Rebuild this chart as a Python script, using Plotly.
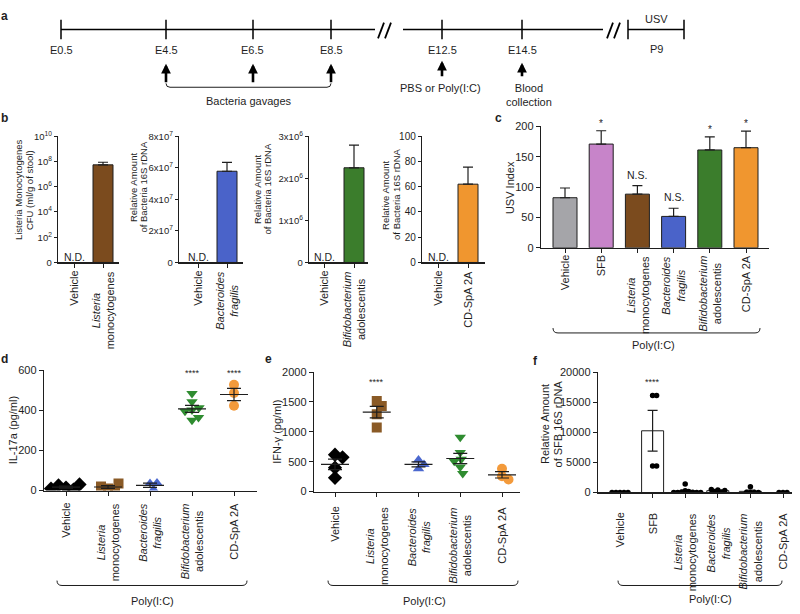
import numpy as np
import plotly.graph_objects as go

W, H = 800, 614
FONT = "Liberation Sans, Arial, Helvetica, sans-serif"
INK = "#1e1e1e"

# ---------------- data ----------------
# panel a: timeline
timeline_days = ["E0.5", "E4.5", "E6.5", "E8.5", "E12.5", "E14.5"]
timeline_notes = ["Bacteria gavages", "PBS or Poly(I:C)", "Blood<br>collection"]
usv_labels = ["USV", "P9"]

# panel b: colonisation
b1_labels = ["Vehicle", "<i>Listeria</i><br>monocytogenes"]
b1_values = [None, 5.4e7]
b1_errors = [None, 3.3e7]
b1_tickvals = [1, 1e2, 1e4, 1e6, 1e8, 1e10]
b1_ticktext = ["0", "10<sup>2</sup>", "10<sup>4</sup>", "10<sup>6</sup>", "10<sup>8</sup>", "10<sup>10</sup>"]
b1_title = ["Listeria Monocytogenes", "CFU (ml/g of stool)"]

b2_labels = ["Vehicle", "<i>Bacteroides</i><br><i>fragilis</i>"]
b2_values = [None, 5.78e7]
b2_errors = [None, 0.56e7]
b2_tickvals = [0, 2e7, 4e7, 6e7, 8e7]
b2_ticktext = ["0", "2x10<sup>7</sup>", "4x10<sup>7</sup>", "6x10<sup>7</sup>", "8x10<sup>7</sup>"]

b3_labels = ["Vehicle", "<i>Bifidobacterium</i><br>adolescentis"]
b3_values = [None, 2.25e6]
b3_errors = [None, 0.54e6]
b3_tickvals = [0, 1e6, 2e6, 3e6]
b3_ticktext = ["0", "1x10<sup>6</sup>", "2x10<sup>6</sup>", "3x10<sup>6</sup>"]

b4_labels = ["Vehicle", "CD-SpA 2A"]
b4_values = [None, 62.0]
b4_errors = [None, 13.5]
b4_tickvals = [0, 20, 40, 60, 80, 100]
rel_title = ["Relative Amount", "of Bacteria 16S rDNA"]

# panel c: USV index
c_labels = ["Vehicle", "SFB", "<i>Listeria</i><br>monocytogenes", "<i>Bacteroides</i><br><i>fragilis</i>",
            "<i>Bifidobacterium</i><br>adolescentis", "CD-SpA 2A"]
c_values = [82.5, 170.9, 88.4, 51.7, 161.2, 164.9]
c_errors = [16.0, 22.0, 14.0, 13.5, 21.5, 27.5]
c_marks = ["", "*", "N.S.", "N.S.", "*", "*"]

# panel d: IL-17a
d_labels = ["Vehicle", "<i>Listeria</i><br>monocytogenes", "<i>Bacteroides</i><br><i>fragilis</i>",
            "<i>Bifidobacterium</i><br>adolescentis", "CD-SpA 2A"]
d_values = [[15, 5, 25, 10, 30],
            [10, 5, 20, 35],
            [35, 5, 38],
            [483, 442, 401, 413, 395, 350, 364],
            [527, 486, 423]]
d_marks = ["", "", "", "****", "****"]

# panel e: IFN-gamma
e_values = [[616, 572, 398, 229],
            [1515, 1433, 1292, 1074],
            [529, 452, 381],
            [910, 654, 540, 507, 409, 300],
            [381, 256, 202]]
e_marks = ["", "****", "", "", ""]

# panel f: SFB 16S rDNA
f_labels = ["Vehicle", "SFB", "<i>Listeria</i><br>monocytogenes", "<i>Bacteroides</i><br><i>fragilis</i>",
            "<i>Bifidobacterium</i><br>adolescentis", "CD-SpA 2A"]
f_values = [[0, 0, 0, 0, 0],
            [16100, 16100, 4400, 4400],
            [1400, 300, 150, 80, 40, 0, 0, 0, 0],
            [400, 100, 150, 350, 500],
            [950, 0, 0, 0, 0],
            [0, 0, 0]]
f_marks = ["", "****", "", "", "", ""]
f_tickvals = [0, 5000, 10000, 15000, 20000]
f_title = ["Relative Amount", "of SFB 16S rDNA"]

# ---------------- styles ----------------
bar_colors_c = ["#a5a5a9", "#c784c9", "#7b4b1e", "#4a63c9", "#3b7d2c", "#f0962f"]
dot_colors = ["#000000", "#8a5a26", "#4b68cf", "#2f8c30", "#f39a3b"]
dot_symbols = ["diamond", "square", "triangle-up", "triangle-down", "circle"]
dot_sizes = [11, 10, 10, 10, 10]

# pixel geometry of each plot (layout only)
P = {
    "b1": dict(n=1, x=(58, 119), y=(132, 261), c0=74, step=29),
    "b2": dict(n=2, x=(179, 243), y=(132, 261), c0=198, step=29),
    "b3": dict(n=3, x=(309, 368), y=(132, 261), c0=324, step=30),
    "b4": dict(n=4, x=(422, 485), y=(132, 261), c0=438, step=30),
    "c": dict(n=5, x=(541, 769), y=(122, 246), c0=565, step=36.2),
    "d": dict(n=6, x=(44, 257), y=(371, 494), c0=66, step=42),
    "e": dict(n=7, x=(314, 520), y=(373, 495), c0=335, step=41.75),
    "f": dict(n=8, x=(598, 792), y=(373, 496), c0=620, step=32.6),
}


def px(xp):
    return xp / W


def py(yp):
    return 1 - yp / H


def names(n):
    s = "" if n == 1 else str(n)
    return "x" + s, "y" + s, "xaxis" + s, "yaxis" + s


fig = go.Figure()
layout = dict(width=W, height=H, margin=dict(l=0, r=0, t=0, b=0, pad=0), autosize=False,
              paper_bgcolor="white", plot_bgcolor="white", showlegend=False,
              font=dict(family=FONT, color=INK, size=11))
annotations = []
shapes = []


def setup(key, ncat, yrange, tickvals, ticktext=None, ytype="linear", tickfs=11, ticklen=4):
    p = P[key]
    xn, yn, xk, yk = names(p["n"])
    x0, x1 = p["x"]
    y0, y1 = p["y"]
    xr = [(x0 - p["c0"]) / p["step"], (x1 - p["c0"]) / p["step"]]
    layout[xk] = dict(domain=[px(x0), px(x1)], range=xr, anchor=yn, showline=True, linecolor=INK,
                      linewidth=1.2, ticks="outside", ticklen=4, tickwidth=1, tickcolor=INK,
                      tickvals=list(range(ncat)), showticklabels=False, showgrid=False,
                      zeroline=False, fixedrange=True)
    ya = dict(domain=[py(y1), py(y0)], range=yrange, anchor=xn, type=ytype, showline=True,
              linecolor=INK, linewidth=1.2, ticks="outside", ticklen=ticklen, tickwidth=1, tickcolor=INK,
              tickvals=tickvals, showgrid=False, zeroline=False, fixedrange=True, tickformat="d",
              tickfont=dict(size=tickfs, color=INK, family=FONT))
    if ticktext is not None:
        ya["ticktext"] = ticktext
    layout[yk] = ya
    return xn, yn


def cat_labels(key, labels, top_px, size=11):
    xn = names(P[key]["n"])[0]
    for i, lab in enumerate(labels):
        annotations.append(dict(x=i, xref=xn, y=py(top_px), yref="paper", text=lab, showarrow=False,
                                textangle=-90, xanchor="center", yanchor="top",
                                font=dict(size=size, color=INK, family=FONT)))


def text(xp, yp, t, size=11, bold=False, angle=0, xa="center", ya="middle"):
    if bold:
        t = "<b>" + t + "</b>"
    annotations.append(dict(x=px(xp), y=py(yp), xref="paper", yref="paper", text=t, showarrow=False,
                            textangle=angle, xanchor=xa, yanchor=ya,
                            font=dict(size=size, color=INK, family=FONT)))


def vtitle(lines, xs, yc, size=9.5):
    for t, xp_ in zip(lines, xs):
        text(xp_, yc, t, size=size, angle=-90)


def seg(x0, y0, x1, y1, w=1.5, color="black"):
    shapes.append(dict(type="line", xref="paper", yref="paper", x0=px(x0), y0=py(y0), x1=px(x1),
                       y1=py(y1), line=dict(color=color, width=w)))


def bracket(x0, x1, y, h=5):
    path = (f"M {px(x0)},{py(y - h)} Q {px(x0)},{py(y)} {px(x0 + h)},{py(y)} "
            f"L {px(x1 - h)},{py(y)} Q {px(x1)},{py(y)} {px(x1)},{py(y - h)}")
    shapes.append(dict(type="path", xref="paper", yref="paper", path=path,
                       line=dict(color=INK, width=1)))


def swarm(values, ypu, diam, step=0.5):
    placed = []
    offs = []
    for v in values:
        y = v * ypu
        k = 0
        chosen = None
        while chosen is None:
            cands = [0.0] if k == 0 else [k * step, -k * step]
            for c in cands:
                if all((c - a) ** 2 + (y - b) ** 2 >= diam ** 2 for a, b in placed):
                    chosen = c
                    break
            k += 1
        placed.append((chosen, y))
        offs.append(chosen)
    return offs


# ---------------- panel a ----------------
text(4, 0, "a", size=12, bold=True, ya="top")
seg(61, 23, 375, 23)
seg(403, 23, 603, 23)
seg(628, 23, 684, 23)
tick_px = [61, 166, 253, 331, 442, 522]
for xp_, lab in zip(tick_px, timeline_days):
    seg(xp_, 13, xp_, 33)
    text(xp_, 44, lab)
seg(628, 13, 628, 33)
seg(684, 13, 684, 33)
for xa_, xb_ in [(378, 384), (385, 391), (607, 613), (614, 620)]:
    seg(xa_, 32, xb_, 16, w=1.8)
text(656, 12, usv_labels[0])
text(656, 43, usv_labels[1])
for xp_, ytip, ytail in [(166, 58, 78), (253, 58, 78), (331, 58, 78), (442, 55, 72), (522, 57, 72)]:
    annotations.append(dict(x=px(xp_), y=py(ytip), xref="paper", yref="paper", ax=0, ay=ytail - ytip,
                            axref="pixel", ayref="pixel", text="", showarrow=True, arrowhead=2,
                            arrowsize=0.75, arrowwidth=2.6, arrowcolor="black", standoff=0))
bracket(166, 331, 82, h=4)
text(248, 96, timeline_notes[0])
text(440, 83, timeline_notes[1])
text(529, 90, timeline_notes[2])

# ---------------- panel b ----------------
text(4, 113, "b", size=12, bold=True)
b_sets = [("b1", b1_labels, b1_values, b1_errors, "#7b4b1e"),
          ("b2", b2_labels, b2_values, b2_errors, "#4a63c9"),
          ("b3", b3_labels, b3_values, b3_errors, "#3b7d2c"),
          ("b4", b4_labels, b4_values, b4_errors, "#f0962f")]
setup("b1", 2, [0, 10], b1_tickvals, b1_ticktext, ytype="log", tickfs=9.5, ticklen=3)
setup("b2", 2, [0, 8e7], b2_tickvals, b2_ticktext, tickfs=9.5, ticklen=3)
setup("b3", 2, [0, 3e6], b3_tickvals, b3_ticktext, tickfs=9.5, ticklen=3)
setup("b4", 2, [0, 100], b4_tickvals, None, tickfs=10, ticklen=3)
for key, labels, vals, errs, col in b_sets:
    xn, yn = names(P[key]["n"])[:2]
    kw = {}
    if key == "b1":
        kw["base"] = [1, 1]
    fig.add_trace(go.Bar(x=list(range(len(vals))), y=vals, xaxis=xn, yaxis=yn, width=20 / P[key]["step"],
                         marker=dict(color=col, line=dict(color=INK, width=1)),
                         error_y=dict(type="data", array=errs, arrayminus=[0, 0], symmetric=False,
                                      color=INK, thickness=1.2, width=5), **kw))
    cat_labels(key, labels, 268, size=11)
    annotations.append(dict(x=0, xref=xn, y=py(255), yref="paper", text="N.D.", showarrow=False,
                            xanchor="center", yanchor="middle", font=dict(size=10.5, color=INK)))
vtitle(b1_title, [18, 29], 187)
vtitle(rel_title, [133, 143.5], 184)
vtitle(rel_title, [257, 267.5], 186)
vtitle(rel_title, [386, 397], 192)

# ---------------- panel c ----------------
text(498, 113, "c", size=12, bold=True)
xn, yn = setup("c", 6, [0, 200], [0, 50, 100, 150, 200])
fig.add_trace(go.Bar(x=list(range(6)), y=c_values, xaxis=xn, yaxis=yn, width=24 / P["c"]["step"],
                     marker=dict(color=bar_colors_c, line=dict(color=INK, width=1)),
                     error_y=dict(type="data", array=c_errors, arrayminus=[0] * 6, symmetric=False,
                                  color=INK, thickness=1.2, width=5)))
for i, m in enumerate(c_marks):
    if m:
        star = m == "*"
        annotations.append(dict(x=i, xref=xn, y=c_values[i] + c_errors[i], yref=yn, text=m,
                                showarrow=False, xanchor="center", yanchor="bottom",
                                yshift=0 if star else 3, font=dict(size=10 if star else 10.5, color=INK)))
cat_labels("c", c_labels, 252)
text(510, 184, "USV Index", size=11, angle=-90)
bracket(553, 760, 333)
text(653, 345, "Poly(I:C)")


# ---------------- dot plots d / e ----------------
def dot_panel(key, values, marks, yrange, tickvals, star_val, title, title_x, label_top, br, poly_x):
    p = P[key]
    xn, yn = setup(key, len(values), yrange, tickvals)
    ypu = (p["y"][1] - p["y"][0]) / (yrange[1] - yrange[0])
    for i, vals in enumerate(values):
        offs = swarm(vals, ypu, dot_sizes[i] * 0.7)
        xs = [i + o / p["step"] for o in offs]
        fig.add_trace(go.Scatter(x=xs, y=vals, xaxis=xn, yaxis=yn, mode="markers",
                                 marker=dict(symbol=dot_symbols[i], size=dot_sizes[i], color=dot_colors[i],
                                             line=dict(width=0))))
    for i, vals in enumerate(values):
        a = np.array(vals, dtype=float)
        m = a.mean()
        s = a.std(ddof=1) / np.sqrt(len(a))
        hw = 14 / p["step"]
        cw = 7 / p["step"]
        lx = [i - hw, i + hw, None, i - cw, i + cw, None, i - cw, i + cw, None, i, i]
        ly = [m, m, None, m + s, m + s, None, m - s, m - s, None, m - s, m + s]
        fig.add_trace(go.Scatter(x=lx, y=ly, xaxis=xn, yaxis=yn, mode="lines",
                                 line=dict(color=INK, width=1.2), hoverinfo="skip"))
    for i, mk in enumerate(marks):
        if mk:
            annotations.append(dict(x=i, xref=xn, y=star_val, yref=yn, text=mk, showarrow=False,
                                    xanchor="center", yanchor="middle", font=dict(size=9, color=INK)))
    text(title_x, (p["y"][0] + p["y"][1]) / 2, title, size=11, angle=-90)
    cat_labels(key, d_labels, label_top)
    bracket(br[0], br[1], 591)
    text(poly_x, 607, "Poly(I:C)")


text(4, 360, "d", size=12, bold=True)
dot_panel("d", d_values, d_marks, [0, 600], [0, 200, 400, 600], 585, "IL-17a (pg/ml)", 13, 505,
          (57, 247), 152)
text(268, 360, "e", size=12, bold=True)
dot_panel("e", e_values, e_marks, [0, 2000], [0, 500, 1000, 1500, 2000], 1830, "IFN-γ (pg/ml)", 277, 509,
          (328, 518), 424)

# ---------------- panel f ----------------
text(535, 362, "f", size=12, bold=True)
p = P["f"]
xn, yn = setup("f", 6, [0, 20000], f_tickvals, [str(v) for v in f_tickvals])
means = [float(np.mean(v)) for v in f_values]
sems = [float(np.std(v, ddof=1) / np.sqrt(len(v))) for v in f_values]
fig.add_trace(go.Bar(x=list(range(6)), y=means, xaxis=xn, yaxis=yn, width=22 / p["step"],
                     marker=dict(color="white", line=dict(color=INK, width=1)),
                     error_y=dict(type="data", array=sems, color=INK, thickness=1.2, width=5)))
ypu = (p["y"][1] - p["y"][0]) / 20000
for i, vals in enumerate(f_values):
    offs = swarm(vals, ypu, 3.6, step=0.5)
    xs = [i + o / p["step"] for o in offs]
    fig.add_trace(go.Scatter(x=xs, y=vals, xaxis=xn, yaxis=yn, mode="markers",
                             marker=dict(symbol="circle", size=5.5, color="black", line=dict(width=0))))
for i, mk in enumerate(f_marks):
    if mk:
        annotations.append(dict(x=i, xref=xn, y=18400, yref=yn, text=mk, showarrow=False,
                                xanchor="center", yanchor="middle", font=dict(size=9, color=INK)))
vtitle(f_title, [545, 557.5], 426, size=11)
cat_labels("f", f_labels, 515)
bracket(618, 782, 591)
text(710, 605, "Poly(I:C)")

layout["annotations"] = annotations
layout["shapes"] = shapes
fig.update_layout(**layout)
fig.write_html("out.html", config={"displayModeBar": False, "staticPlot": True},
               post_script="document.body.style.margin='0';document.body.style.overflow='hidden';")
